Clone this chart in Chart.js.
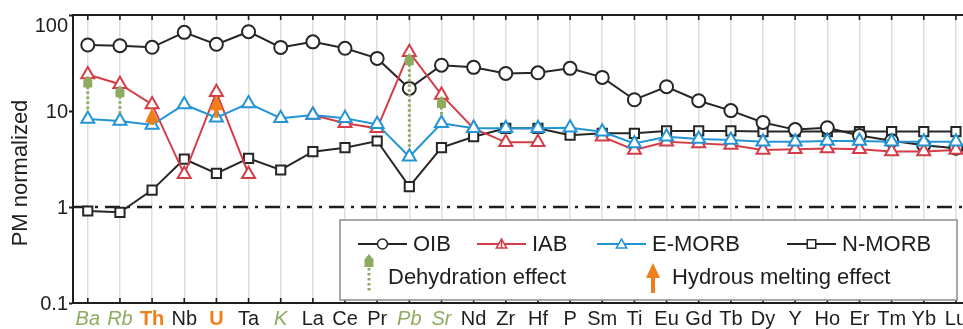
<!DOCTYPE html>
<html>
<head>
<meta charset="utf-8">
<script src="https://cdn.jsdelivr.net/npm/chart.js@4"></script>
<style>
  html, body { margin: 0; padding: 0; background: #fff; overflow: hidden; }
  #wrap { position: relative; width: 963px; height: 329px; }
</style>
</head>
<body>
<div id="wrap"><canvas id="pm" width="963" height="329"></canvas></div>
<script>
// Primitive-mantle normalized spidergram of oceanic basalt reference compositions
const elements = ['Ba','Rb','Th','Nb','U','Ta','K','La','Ce','Pr','Pb','Sr','Nd','Zr','Hf','P','Sm','Ti','Eu','Gd','Tb','Dy','Y','Ho','Er','Tm','Yb','Lu'];
const oib   = [48.7, 47.9, 46.1, 66, 49.5, 67, 46, 52.5, 45, 35.3, 17.2, 30, 28.5, 24.6, 25, 27.8, 22.4, 13.1, 17.9, 12.8, 10.1, 7.6, 6.4, 6.7, 5.55, 4.9, 4.4, 4.1];
const iab   = [24, 19, 11.7, 2.19, 15.7, 2.2, null, 9.1, 7.45, 6.6, 41, 14.7, 6.6, 4.72, 4.72, null, 5.4, 3.92, 4.79, 4.6, 4.42, 3.92, 4.0, 4.08, 4.0, 3.78, 3.78, 3.92];
const emorb = [8.26, 7.87, 7.15, 11.7, 8.5, 12.0, 8.4, 9.1, 8.4, 7.26, 3.34, 7.45, 6.6, 6.6, 6.6, 6.7, 6.08, 4.6, 5.4, 5.1, 4.99, 4.79, 4.79, 4.87, 4.87, 4.79, 4.79, 4.79];
const nmorb = [0.908, 0.88, 1.5, 3.16, 2.24, 3.21, 2.43, 3.77, 4.15, 4.87, 1.63, 4.15, 5.4, 6.6, 6.6, 5.6, 5.85, 5.85, 6.2, 6.2, 6.2, 6.1, 6.1, 6.1, 6.1, 6.1, 6.1, 6.1];
const yTicks = [0.1, 1, 10, 100];
const yTickLabels = ['0.1', '1', '10', '100'];
const primitiveMantleLevel = 1;
const fluidMobile = ['Ba', 'Rb', 'K', 'Pb', 'Sr'];   // labelled in italic green
const meltMobile  = ['Th', 'U'];                     // labelled in bold orange
const dehydrationAt = ['Ba', 'Rb', 'Pb', 'Sr'];
const hydrousMeltingAt = ['Th', 'U'];

const FONT = '"Liberation Sans", Arial, Helvetica, sans-serif';
const INK = '#1e1e1e';
const C = {
  oib: '#262626', iab: '#d43d48', emorb: '#2394d4', nmorb: '#262626',
  green: '#8eab62', orange: '#ee7f1b', grid: '#dedede', box: '#8c8c8c'
};

const series = vals => vals.map((v, i) => ({ x: i, y: v }));

function lineSet(label, vals, color, style, radius) {
  return {
    label, data: series(vals), borderColor: color, borderWidth: 2,
    pointStyle: style, pointRadius: radius, pointBorderWidth: 2,
    pointBorderColor: color, pointBackgroundColor: '#ffffff',
    backgroundColor: '#ffffff', fill: false, tension: 0, spanGaps: false
  };
}

// Green "dehydration" arrow head (house-shaped) with dotted stem
function greenHead(ctx, x, yTip, w, h) {
  ctx.save();
  ctx.fillStyle = C.green;
  ctx.beginPath();
  ctx.moveTo(x, yTip);
  ctx.lineTo(x + w / 2, yTip + h * 0.42);
  ctx.lineTo(x + w / 2, yTip + h);
  ctx.lineTo(x - w / 2, yTip + h);
  ctx.lineTo(x - w / 2, yTip + h * 0.42);
  ctx.closePath();
  ctx.fill();
  ctx.restore();
}
function greenStem(ctx, x, y0, y1) {
  ctx.save();
  ctx.strokeStyle = C.green;
  ctx.lineWidth = 3;
  ctx.setLineDash([2.5, 2.5]);
  ctx.beginPath();
  ctx.moveTo(x, y0);
  ctx.lineTo(x, y1);
  ctx.stroke();
  ctx.restore();
}
// Orange "hydrous melting" arrow
function orangeArrow(ctx, x, yTip, yEnd, headW, headH, shaftW) {
  ctx.save();
  ctx.fillStyle = C.orange;
  if (yEnd > yTip + headH) ctx.fillRect(x - shaftW / 2, yTip + headH - 1, shaftW, yEnd - yTip - headH + 1);
  ctx.beginPath();
  ctx.moveTo(x, yTip);
  ctx.lineTo(x + headW / 2, yTip + headH);
  ctx.lineTo(x - headW / 2, yTip + headH);
  ctx.closePath();
  ctx.fill();
  ctx.restore();
}

function marker(ctx, style, x, y, r) {
  ctx.beginPath();
  if (style === 'circle') {
    ctx.arc(x, y, r, 0, Math.PI * 2);
  } else if (style === 'rect') {
    const s = r * Math.SQRT1_2;
    ctx.rect(x - s, y - s, 2 * s, 2 * s);
  } else {
    const a = -Math.PI / 2;
    for (let k = 0; k < 3; k++) {
      const t = a + k * 2 * Math.PI / 3;
      const px = x + Math.cos(t) * r, py = y + Math.sin(t) * r;
      k ? ctx.lineTo(px, py) : ctx.moveTo(px, py);
    }
    ctx.closePath();
  }
  ctx.fill();
  ctx.stroke();
}

const decor = {
  id: 'decor',
  beforeDatasetsDraw(chart) {
    const { ctx, chartArea: ca, scales: { y } } = chart;
    const yy = y.getPixelForValue(primitiveMantleLevel);
    ctx.save();
    ctx.strokeStyle = INK;
    ctx.lineWidth = 2.6;
    ctx.setLineDash([15, 7, 3, 7]);
    ctx.beginPath();
    ctx.moveTo(ca.left, yy);
    ctx.lineTo(ca.right, yy);
    ctx.stroke();
    ctx.restore();
  },
  afterDatasetsDraw(chart) {
    const { ctx, scales: { x, y } } = chart;
    dehydrationAt.forEach(el => {
      const i = elements.indexOf(el);
      const px = x.getPixelForValue(i);
      const yTop = y.getPixelForValue(iab[i]) + 1;
      const yLow = y.getPixelForValue(emorb[i]) - 7;
      greenStem(ctx, px, yTop + 11, yLow);
      greenHead(ctx, px, yTop, 9, 12);
    });
    hydrousMeltingAt.forEach(el => {
      const i = elements.indexOf(el);
      const px = x.getPixelForValue(i);
      const yTop = y.getPixelForValue(iab[i]) + 3;
      const yLow = y.getPixelForValue(emorb[i]);
      orangeArrow(ctx, px, yTop, yLow, 14, 15, 4);
    });
  },
  afterDraw(chart) {
    const { ctx, chartArea: ca, scales: { x, y } } = chart;
    ctx.save();
    // top frame line and inward tick marks
    ctx.strokeStyle = INK;
    ctx.lineWidth = 2;
    ctx.beginPath();
    ctx.moveTo(ca.left - 1, ca.top);
    ctx.lineTo(ca.right, ca.top);
    ctx.stroke();
    ctx.lineWidth = 1.6;
    elements.forEach((_, i) => {
      const px = x.getPixelForValue(i);
      ctx.beginPath();
      ctx.moveTo(px, ca.top); ctx.lineTo(px, ca.top + 5);
      ctx.moveTo(px, ca.bottom); ctx.lineTo(px, ca.bottom - 5);
      ctx.stroke();
    });

    // y tick labels (kept inside the frame's top edge)
    ctx.fillStyle = INK;
    ctx.font = '20px ' + FONT;
    ctx.textAlign = 'right';
    ctx.textBaseline = 'middle';
    yTicks.forEach((v, k) => {
      const py = Math.max(y.getPixelForValue(v), ca.top + 10) + 1;
      ctx.fillText(yTickLabels[k], ca.left - 5, py);
    });

    // axis title
    ctx.save();
    ctx.translate(21, 173);
    ctx.rotate(-Math.PI / 2);
    ctx.fillStyle = INK;
    ctx.font = '22px ' + FONT;
    ctx.textAlign = 'center';
    ctx.textBaseline = 'middle';
    ctx.fillText('PM normalized', 0, 0);
    ctx.restore();

    // legend box
    const bx = ca.left + 267, by = ca.top + 205;
    const bw = 617, bh = ca.bottom - 3 - by;
    ctx.fillStyle = '#ffffff';
    ctx.fillRect(bx, by, bw, bh);
    ctx.strokeStyle = C.box;
    ctx.lineWidth = 1.5;
    ctx.setLineDash([]);
    ctx.strokeRect(bx, by, bw, bh);

    ctx.font = '22px ' + FONT;
    ctx.textAlign = 'left';
    ctx.textBaseline = 'middle';
    const r1 = by + 24;
    const items = [
      { label: 'OIB', color: C.oib, style: 'circle', r: 5, dx: 18 },
      { label: 'IAB', color: C.iab, style: 'triangle', r: 6, dx: 137 },
      { label: 'E-MORB', color: C.emorb, style: 'triangle', r: 6, dx: 257 },
      { label: 'N-MORB', color: C.nmorb, style: 'rect', r: 6, dx: 447 }
    ];
    items.forEach(it => {
      const x0 = bx + it.dx, x1 = x0 + 49, xm = (x0 + x1) / 2;
      ctx.strokeStyle = it.color;
      ctx.lineWidth = 2;
      ctx.beginPath(); ctx.moveTo(x0, r1); ctx.lineTo(x1, r1); ctx.stroke();
      ctx.fillStyle = '#ffffff';
      ctx.lineWidth = 1.5;
      marker(ctx, it.style, xm, r1 + (it.style === 'triangle' ? 1 : 0), it.r);
      if (it.label === 'IAB') {
        ctx.beginPath(); ctx.moveTo(xm, r1 - 5); ctx.lineTo(xm, r1 + 4); ctx.stroke();
      }
      ctx.fillStyle = INK;
      ctx.fillText(it.label, x1 + 6, r1 + 1);
    });

    const r2 = by + 58;
    greenHead(ctx, bx + 29, by + 34, 9, 13);
    greenStem(ctx, bx + 29, by + 48, by + 73);
    ctx.fillStyle = INK;
    ctx.fillText('Dehydration effect', bx + 48, r2);
    orangeArrow(ctx, bx + 313, by + 43, by + 73, 14, 15, 4);
    ctx.fillStyle = INK;
    ctx.fillText('Hydrous melting effect', bx + 332, r2);
    ctx.restore();
  }
};

function tickStyle(name) {
  if (fluidMobile.includes(name)) return { font: { family: FONT, size: 20, style: 'italic' }, color: C.green };
  if (meltMobile.includes(name)) return { font: { family: FONT, size: 20, weight: 'bold' }, color: C.orange };
  return { font: { family: FONT, size: 20 }, color: INK };
}
const tickName = ctx => (ctx && ctx.tick) ? elements[Math.round(ctx.tick.value)] : '';

new Chart(document.getElementById('pm'), {
  type: 'line',
  data: {
    datasets: [
      lineSet('E-MORB', emorb, C.emorb, 'triangle', 7.5),
      lineSet('IAB', iab, C.iab, 'triangle', 7.5),
      lineSet('OIB', oib, C.oib, 'circle', 6.5),
      lineSet('N-MORB', nmorb, C.nmorb, 'rect', 6.5)
    ]
  },
  options: {
    responsive: false,
    animation: false,
    devicePixelRatio: 1,
    layout: { autoPadding: false, padding: { top: 15, left: 0, right: 0, bottom: 0 } },
    plugins: { legend: { display: false }, tooltip: { enabled: false } },
    scales: {
      x: {
        type: 'linear',
        min: -0.46, max: 27.22,
        afterBuildTicks: s => { s.ticks = elements.map((_, i) => ({ value: i })); },
        afterFit: s => { s.height = 26; s.paddingLeft = 0; s.paddingRight = 0; },
        grid: { color: C.grid, lineWidth: 1.5, drawTicks: false },
        border: { display: true, color: INK, width: 2 },
        ticks: {
          autoSkip: false, maxRotation: 0, minRotation: 0, padding: 4,
          callback: v => elements[Math.round(v)],
          font: ctx => tickStyle(tickName(ctx)).font,
          color: ctx => tickStyle(tickName(ctx)).color
        }
      },
      y: {
        type: 'logarithmic',
        min: 0.1, max: 100,
        afterBuildTicks: s => { s.ticks = yTicks.map(v => ({ value: v })); },
        afterFit: s => { s.width = 73; s.paddingTop = 0; s.paddingBottom = 0; },
        grid: { drawOnChartArea: false, drawTicks: true, tickLength: 4, tickWidth: 2, tickColor: INK },
        border: { display: true, color: INK, width: 2 },
        ticks: { display: false }
      }
    }
  },
  plugins: [decor]
});
</script>
</body>
</html>
